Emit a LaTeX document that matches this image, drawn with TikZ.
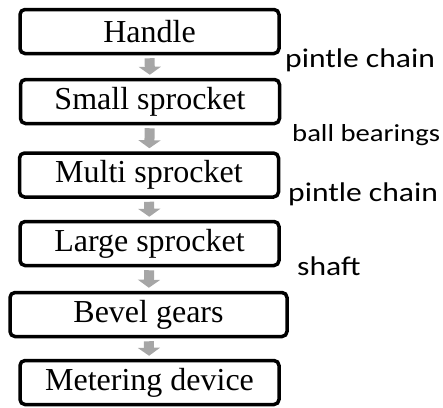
\documentclass[tikz,border=0pt]{standalone}
\usepackage{fontspec}
\setmainfont{Liberation Serif}
\newfontfamily\etiqfont[FakeStretch=1.17]{Carlito}
\usetikzlibrary{arrows.meta}
\begin{document}
\begin{tikzpicture}[x=1pt,y=-1pt]
		% les styles
		\tikzstyle{bloc}=[rectangle,draw,line width=3.5pt,rounded corners=5pt,fill=white,text=black,minimum width=259pt,minimum height=44pt,inner sep=0pt,font=\fontsize{32}{32}\selectfont]
		\tikzstyle{lien}=[-{Triangle[width=22pt,length=8pt]},line width=10pt,draw=black!35,shorten <=3pt,shorten >=3pt]
		\tikzstyle{legende}=[anchor=base west,inner sep=0pt,text=black,font=\etiqfont\fontsize{27}{27}\selectfont]
		\useasboundingbox (0,0) rectangle (443,407);
		% les blocs
		\node[bloc] (handle) at (149.5,31.5) {Handle};
		\node[bloc] (small) at (150,101.5) {Small sprocket};
		\node[bloc] (multi) at (149,175) {Multi sprocket};
		\node[bloc] (large) at (149.5,243.5) {Large sprocket};
		\node[bloc,minimum width=277pt] (bevel) at (148.5,314.5) {Bevel gears};
		\node[bloc] (meter) at (149.5,382.5) {Metering device};
		% les flèches
		\draw[lien] (handle) -- (small);
		\draw[lien] (small) -- (multi);
		\draw[lien] (multi) -- (large);
		\draw[lien] (large) -- (bevel);
		\draw[lien] (bevel) -- (meter);
		% les légendes
		\node[legende] (chain1) at (285,67) {pintle chain};
		\node[legende,font=\etiqfont\fontsize{24.5}{24.5}\selectfont] (bearings) at (292,141) {ball bearings};
		\node[legende] (chain2) at (288,201) {pintle chain};
		\node[legende] (shaft) at (297,275) {shaft};
	\end{tikzpicture}
\end{document}
